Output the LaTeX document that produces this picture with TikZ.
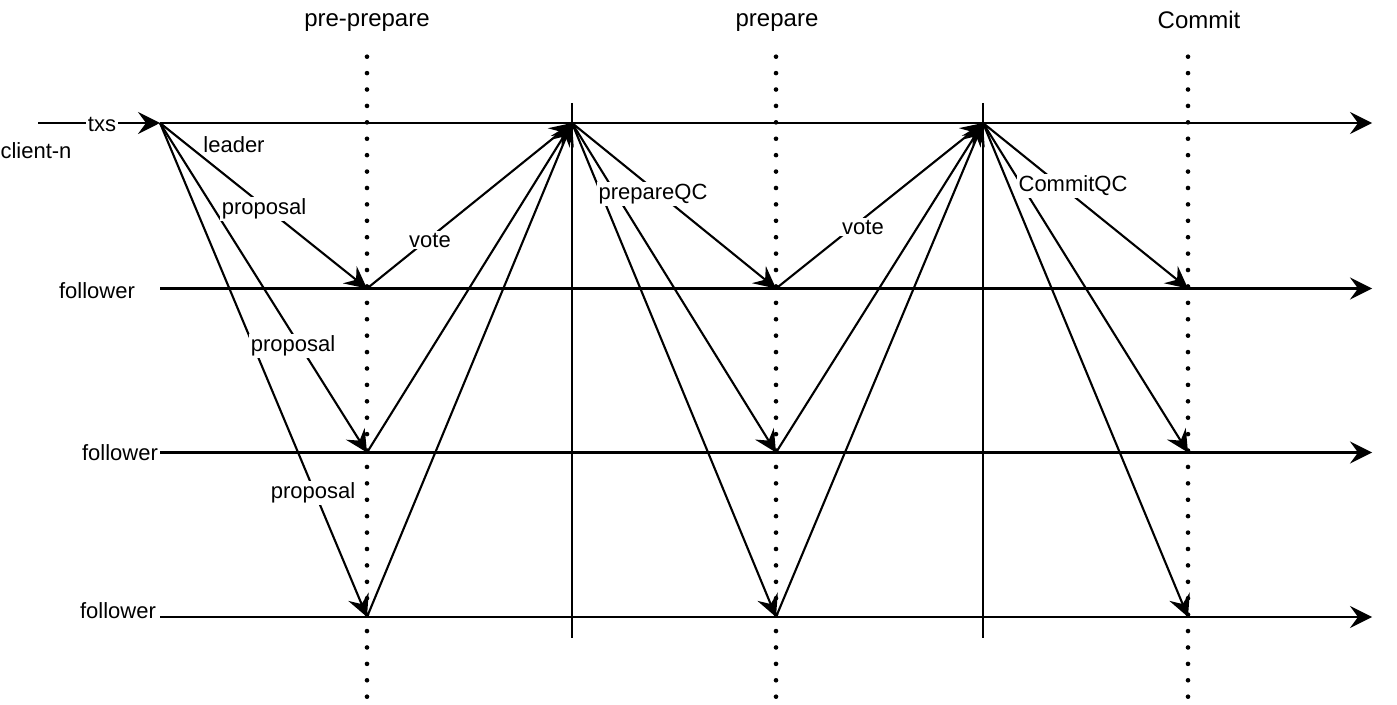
\documentclass[tikz,border=0pt]{standalone}
\usepackage{fontspec}
\setmainfont{Liberation Sans}
\usetikzlibrary{arrows.meta}
\begin{document}
\begin{tikzpicture}[x=0.5pt,y=-0.5pt,
  every node/.style={font=\fontsize{11}{13}\selectfont, inner sep=1pt},
  lbl/.style={fill=white},
  ttl/.style={font=\fontsize{12}{14}\selectfont},
  msg/.style={line width=1.05pt, -{Stealth[length=11pt,width=11pt,inset=4pt]}},
  tline/.style={line width=1.05pt},
  dotline/.style={line width=2.3pt, line cap=round, dash pattern=on 0pt off 8.205pt},
  ]
\useasboundingbox (0,0) rectangle (1397,705);

% phase titles
\node[ttl] (t1) at (367,23) {pre-prepare};
\node[ttl] (t2) at (777,23) {prepare};
\node[ttl] (t3) at (1199,20) {Commit};

% coordinates
\coordinate (cl) at (38,123);
\coordinate (L0) at (160,123);
\coordinate (Lend) at (1372,123);
\foreach \i/\y in {1/288.5,2/452.5,3/617}{
  \coordinate (F\i s) at (160,\y);
  \coordinate (F\i e) at (1372,\y);
  \coordinate (A\i) at (367,\y);
  \coordinate (C\i) at (776,\y);
  \coordinate (E\i) at (1188,\y);
}
\coordinate (B) at (572,123);
\coordinate (D) at (983,123);

% dotted phase lines
\foreach \x/\n in {367/a,776/b,1188/c}{
  \coordinate (dt\n) at (\x,56.7);
  \coordinate (db\n) at (\x,696.7);
  \draw[dotline] (dt\n) -- (db\n);
}

% solid separators
\coordinate (s1t) at (572,103); \coordinate (s1b) at (572,638);
\coordinate (s2t) at (983,103); \coordinate (s2b) at (983,638);
\draw[tline] (s1t) -- (s1b);
\draw[tline] (s2t) -- (s2b);

% timelines
\draw[msg] (cl) -- (L0);
\draw[msg] (L0) -- (Lend);
\draw[msg] (F1s) -- (F1e);
\draw[msg] (F2s) -- (F2e);
\draw[msg] (F3s) -- (F3e);

% pre-prepare: proposals
\draw[msg] (L0) -- (A1);
\draw[msg] (L0) -- (A2);
\draw[msg] (L0) -- (A3);
% votes
\draw[msg] (A1) -- (B);
\draw[msg] (A2) -- (B);
\draw[msg] (A3) -- (B);
% prepareQC
\draw[msg] (B) -- (C1);
\draw[msg] (B) -- (C2);
\draw[msg] (B) -- (C3);
% votes
\draw[msg] (C1) -- (D);
\draw[msg] (C2) -- (D);
\draw[msg] (C3) -- (D);
% CommitQC
\draw[msg] (D) -- (E1);
\draw[msg] (D) -- (E2);
\draw[msg] (D) -- (E3);

% labels
\node[lbl] (txs) at (102,125) {txs};
\node (client) at (36,151) {client-n};
\node (leader) at (234,145) {leader};
\node[lbl] (p1) at (264,209) {proposal};
\node[lbl] (p2) at (293,346) {proposal};
\node[lbl] (p3) at (313,493) {proposal};
\node[lbl] (v1) at (430,240) {vote};
\node[lbl] (pqc) at (653,194) {prepareQC};
\node[lbl] (v2) at (863,227) {vote};
\node[lbl] (cqc) at (1073,186) {CommitQC};
\node (f1) at (97,291) {follower};
\node[lbl] (f2) at (120,453) {follower};
\node (f3) at (118,611) {follower};
\end{tikzpicture}
\end{document}
